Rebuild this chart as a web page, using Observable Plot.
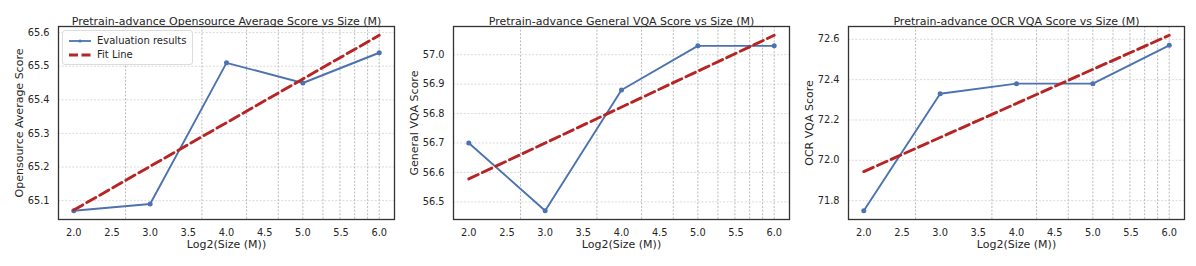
<!DOCTYPE html>
<html>
<head>
<meta charset="utf-8">
<script src="https://cdn.jsdelivr.net/npm/d3@7"></script>
<script src="https://cdn.jsdelivr.net/npm/@observablehq/plot@0.6"></script>
<style>
  html, body { margin: 0; padding: 0; background: #fff; }
  #wrap { position: relative; width: 1196px; height: 266px; font-family: "DejaVu Sans", sans-serif; }
  .panel { position: absolute; top: 0; }
  .legend { position: absolute; left: 62px; top: 30px; width: 129px; height: 33px; border: 1px solid #dcdcdc; border-radius: 3px; background: rgba(255,255,255,0.85); font-size: 10px; color: #262626; }
  .legend .row { position: absolute; left: 0; height: 14px; }
  .legend svg { position: absolute; left: 4px; top: 0; }
  .legend span { position: absolute; left: 34px; top: 0; line-height: 14px; white-space: nowrap; }
</style>
</head>
<body>
<div id="wrap"></div>
<script>
// ---- data ----
const log2Size = [2, 3, 4, 5, 6];
const opensourceAvg = [65.07, 65.09, 65.51, 65.45, 65.54];
const generalVqa = [56.70, 56.47, 56.88, 57.03, 57.03];
const ocrVqa = [71.75, 72.33, 72.38, 72.38, 72.57];

const titles = [
  "Pretrain-advance Opensource Average Score vs Size (M)",
  "Pretrain-advance General VQA Score vs Size (M)",
  "Pretrain-advance OCR VQA Score vs Size (M)"
];
const yLabels = ["Opensource Average Score", "General VQA Score", "OCR VQA Score"];
const xLabel = "Log2(Size (M))";
const xTicks = [2.0, 2.5, 3.0, 3.5, 4.0, 4.5, 5.0, 5.5, 6.0];
const yTicks1 = [65.1, 65.2, 65.3, 65.4, 65.5, 65.6];
const yTicks2 = [56.5, 56.6, 56.7, 56.8, 56.9, 57.0];
const yTicks3 = [71.8, 72.0, 72.2, 72.4, 72.6];
// minor (log-spaced) vertical grid, in size units
const gridSizes = [6.4, 12.8, 19.2, 25.6, 32, 38.4, 44.8, 51.2, 57.6, 64];
const legendLabels = ["Evaluation results", "Fit Line"];

const series = [opensourceAvg, generalVqa, ocrVqa];
const yTicksAll = [yTicks1, yTicks2, yTicks3];

const BLUE = "#4C72B0";
const RED = "#B82424";
const FONT = '"DejaVu Sans", sans-serif';

function fitEnds(xs, ys) {
  const mx = d3.mean(xs), my = d3.mean(ys);
  const b = d3.sum(xs, (x, i) => (x - mx) * (ys[i] - my)) / d3.sum(xs, x => (x - mx) ** 2);
  const a = my - b * mx;
  const [x0, x1] = d3.extent(xs);
  return [a + b * x0, a + b * x1];
}

function pad(ext) {
  const r = ext[1] - ext[0];
  return [ext[0] - r * 0.05, ext[1] + r * 0.05];
}

const wrap = document.getElementById("wrap");
const lefts = [0, 395, 790];

series.forEach((ys, p) => {
  const data = log2Size.map((x, i) => ({x, y: ys[i]}));
  const yDom = pad(d3.extent([...ys, ...fitEnds(log2Size, ys)]));
  const xDom = pad(d3.extent(log2Size));
  const chart = Plot.plot({
    width: 400,
    height: 266,
    marginLeft: 58,
    marginRight: 6,
    marginTop: 26,
    marginBottom: 47,
    style: {fontFamily: FONT, fontSize: "9.8px", color: "#262626", background: "transparent", overflow: "visible"},
    x: {domain: xDom},
    y: {domain: yDom},
    marks: [
      Plot.ruleY(yTicksAll[p], {stroke: "#d0d0d0", strokeWidth: 0.8, strokeDasharray: "2,1.6"}),
      Plot.ruleX(gridSizes.map(Math.log2), {stroke: "#a8a8a8", strokeWidth: 0.8, strokeDasharray: "2,1.6"}),
      Plot.axisX(xTicks, {tickSize: 0, tickPadding: 10, tickFormat: d3.format(".1f"), label: null, fill: "#262626", fontFamily: FONT, fontSize: 9.8}),
      Plot.axisY(yTicksAll[p], {tickSize: 0, tickPadding: 9, tickFormat: d3.format(".1f"), label: null, fill: "#262626", fontFamily: FONT, fontSize: 9.8}),
      Plot.line(data, {x: "x", y: "y", stroke: BLUE, strokeWidth: 1.9}),
      Plot.dot(data, {x: "x", y: "y", r: 2.5, fill: BLUE, stroke: "none"}),
      Plot.linearRegressionY(data, {x: "x", y: "y", ci: 0, stroke: RED, strokeWidth: 2.9, strokeDasharray: "10.4,4.6"}),
      Plot.frame({stroke: "#333", strokeWidth: 1.3}),
      Plot.text([titles[p]], {frameAnchor: "top", dy: -9, textAnchor: "middle", fontSize: 11, fontFamily: FONT, fill: "#262626"}),
      Plot.text([xLabel], {frameAnchor: "bottom", dy: 28.3, textAnchor: "middle", fontSize: 11, fontFamily: FONT, fill: "#262626"}),
      Plot.text([yLabels[p]], {frameAnchor: "left", dx: -39.5, rotate: -90, textAnchor: "middle", fontSize: 11, fontFamily: FONT, fill: "#262626"})
    ]
  });
  chart.classList.add("panel");
  chart.style.left = lefts[p] + "px";
  wrap.appendChild(chart);
});

// legend (first panel)
const leg = document.createElement("div");
leg.className = "legend";
leg.innerHTML = `
  <div class="row" style="top:3px;width:129px">
    <svg width="26" height="14"><line x1="2" x2="24" y1="7" y2="7" stroke="${BLUE}" stroke-width="1.8"/><circle cx="13" cy="7" r="1.6" fill="${BLUE}"/></svg>
    <span>${legendLabels[0]}</span>
  </div>
  <div class="row" style="top:17px;width:129px">
    <svg width="26" height="14"><line x1="2" x2="24" y1="7" y2="7" stroke="${RED}" stroke-width="2.8" stroke-dasharray="9,3.5"/></svg>
    <span>${legendLabels[1]}</span>
  </div>`;
wrap.appendChild(leg);
</script>
</body>
</html>
